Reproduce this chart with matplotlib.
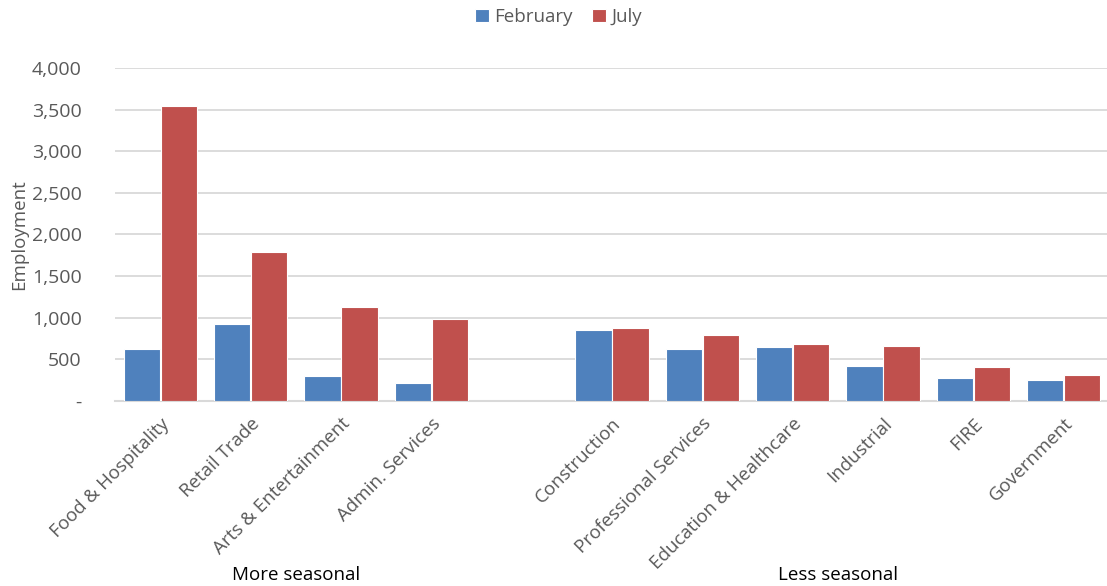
import matplotlib.pyplot as plt
import numpy as np

categories = ['Food & Hospitality', 'Retail Trade', 'Arts & Entertainment', 'Admin. Services', '',
              'Construction', 'Professional Services', 'Education & Healthcare', 'Industrial', 'FIRE',
              'Government']
february = [623, 922, 303, 212, np.nan, 849, 620, 645, 420, 272, 252]
july = [3545, 1785, 1122, 986, np.nan, 873, 789, 684, 660, 404, 312]
groups = ['More seasonal', 'Less seasonal']
group_pos = [1.5, 7.5]
yticks = [0, 500, 1000, 1500, 2000, 2500, 3000, 3500, 4000]
ytick_labels = ['-', '500', '1,000', '1,500', '2,000', '2,500', '3,000', '3,500', '4,000']

plt.rcParams['font.family'] = ['Open Sans', 'DejaVu Sans']
grey = '#595959'

fig = plt.figure(figsize=(11.07, 5.86), dpi=100)
ax = fig.add_axes([0.104, 0.316, 0.896, 0.568])

x = np.arange(len(categories))
w = 0.4
ax.bar(x - w / 2 - 0.005, february, width=w, color='#4F81BD', edgecolor='white', linewidth=0.8,
       label='February', zorder=3)
ax.bar(x + w / 2 + 0.005, july, width=w, color='#C0504D', edgecolor='white', linewidth=0.8,
       label='July', zorder=3)

ax.set_xlim(-0.5, 10.48)
ax.set_ylim(0, 4000)
ax.set_yticks(yticks)
ax.set_yticklabels(ytick_labels, fontsize=14, color=grey)
ax.set_xticks(x)
ax.set_xticklabels(categories, rotation=45, ha='right', rotation_mode='anchor',
                   fontsize=13.5, color=grey)
ax.tick_params(axis='y', length=0, pad=24)
ax.tick_params(axis='x', length=0, pad=10)
ax.grid(axis='y', color='#d9d9d9', linewidth=1.3, zorder=0)
for s in ['top', 'right', 'left']:
  ax.spines[s].set_visible(False)
ax.spines['bottom'].set_color('#d9d9d9')
ax.spines['bottom'].set_linewidth(1.5)

ax.set_ylabel('Employment', fontsize=13.5, color=grey, labelpad=3)

for g, p in zip(groups, group_pos):
  ax.text(p, -0.523, g, transform=ax.get_xaxis_transform(), ha='center', va='center',
          fontsize=13.5, color='black')

ax.legend(loc='center', bbox_to_anchor=(0.447, 1.153), ncol=2, frameon=False,
          fontsize=13.5, handlelength=0.75, handleheight=0.75, handletextpad=0.3,
          columnspacing=1.0, labelcolor=grey)

fig.savefig('out.png', dpi=100)
